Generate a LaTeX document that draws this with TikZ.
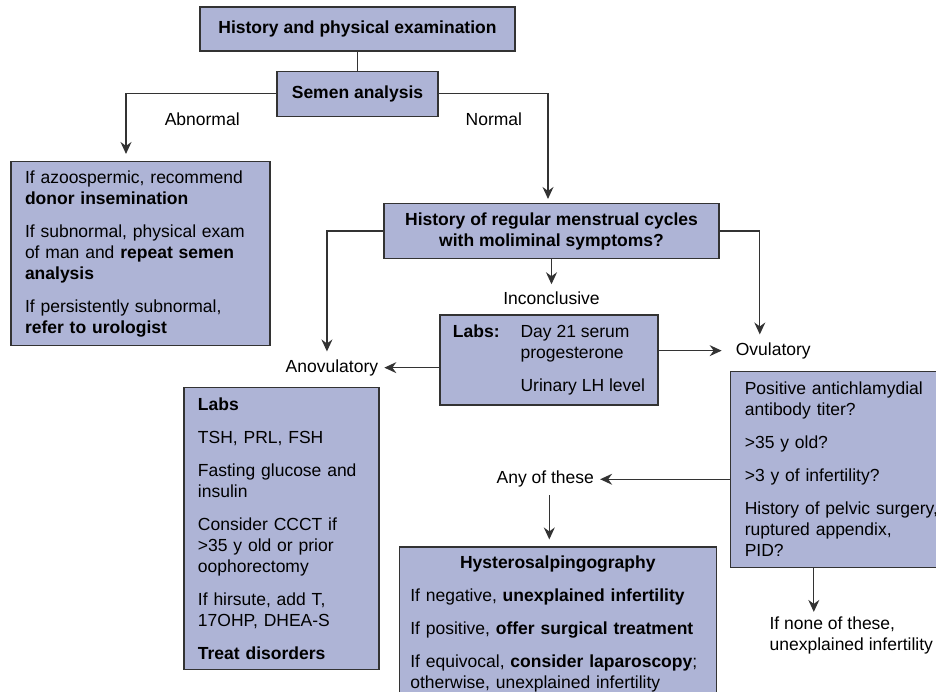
\documentclass[tikz,border=0pt]{standalone}
\usepackage{fontspec}
\setmainfont{Liberation Sans}
\usepackage{xcolor}
\usepackage{tikz}
\usetikzlibrary{positioning,arrows.meta}
\definecolor{accent}{HTML}{333333}
\definecolor{soft}{HTML}{AEB4D6}
\newcommand{\diagfont}{\fontsize{17.5pt}{21pt}\selectfont}
\newcommand{\gap}{\\[12pt]}
\tikzset{
  box/.style={rectangle,draw=accent,fill=soft,line width=1.3pt,
    align=center,inner sep=4pt,font=\diagfont\bfseries},
  panel/.style={rectangle,draw=accent,fill=soft,line width=1.3pt,
    align=left,inner xsep=14pt,inner ysep=4pt},
  lbl/.style={inner xsep=6pt,inner ysep=8pt,text height=12.5pt,text depth=3.5pt},
  note/.style={align=left,inner sep=5pt},
  ln/.style={draw=accent,line width=1.3pt},
  fl/.style={-{Stealth[length=12pt,width=11pt,inset=4pt]},draw=accent,line width=1.3pt},
}

\begin{document}
\begin{tikzpicture}[x=1pt,y=-1pt,font=\diagfont]
  \useasboundingbox (0,0) rectangle (936,692);
  \clip (0,0) rectangle (936,692);
  \node[box,minimum width=315pt,minimum height=44pt] (hpe) at (357.5,29) {History and physical examination};
  \node[box,minimum width=161pt,minimum height=45pt,below=19pt of hpe] (semen) {Semen analysis};
  \node[lbl,left=30.5pt of semen,yshift=-27.25pt] (abn) {Abnormal};
  \node[lbl,right=20.8pt of semen,yshift=-27.25pt] (norm) {Normal};
  \node[panel,text width=231pt,minimum height=184pt,below=44pt of semen,xshift=-217pt] (male) {If azoospermic, recommend\\
    \textbf{donor insemination}\gap
    If subnormal, physical exam\\
    of man and \textbf{repeat semen}\\
    \textbf{analysis}\gap
    If persistently subnormal,\\
    \textbf{refer to urologist}};
  \node[box,minimum width=335pt,minimum height=55pt,below=86pt of semen,xshift=194pt] (cycles) {History of regular menstrual cycles\\with moliminal symptoms?};
  \node[lbl,below=25pt of cycles] (inconc) {Inconclusive};
  \node[rectangle,draw=accent,fill=soft,line width=1.3pt,minimum width=218pt,minimum height=90pt,
    below=55pt of cycles,xshift=-2.5pt] (labsmid) {%
    \begin{tabular}{@{}l@{\hspace{21pt}}l@{}}
      \textbf{Labs:} & Day 21 serum\\
       & progesterone\\[12pt]
       & Urinary LH level
    \end{tabular}};
  \node[lbl,left=55pt of labsmid,yshift=-7.75pt] (anov) {Anovulatory};
  \node[lbl,right=71pt of labsmid,yshift=9.25pt] (ovul) {Ovulatory};
  \node[panel,text width=167pt,minimum height=282pt,below=3pt of anov,xshift=-50.5pt] (labsanov) {\textbf{Labs}\gap
    TSH, PRL, FSH\gap
    Fasting glucose and\\ insulin\gap
    Consider CCCT if\\ >35 y old or prior\\ oophorectomy\gap
    If hirsute, add T,\\ 17OHP, DHEA-S\gap
    \textbf{Treat disorders}};
  \node[panel,text width=195pt,minimum height=196pt,below=4pt of ovul,xshift=69pt] (risk) {Positive antichlamydial\\ antibody titer?\gap
    >35 y old?\gap
    >3 y of infertility?\gap
    History of pelvic surgery,\\ ruptured appendix,\\ PID?};
  \node[lbl,left=130pt of risk,yshift=-9.75pt] (any) {Any of these};
  \node[panel,inner xsep=11pt,text width=295pt,minimum height=154pt,below=51pt of any,xshift=12.5pt] (hsg) {%
    \makebox[\linewidth]{\textbf{Hysterosalpingography}}\gap
    If negative, \textbf{unexplained infertility}\gap
    If positive, \textbf{offer surgical treatment}\gap
    If equivocal, \textbf{consider laparoscopy};\\
    otherwise, unexplained infertility};
  \node[note,below=43.75pt of risk,xshift=9pt] (none) {If none of these,\\unexplained infertility};

  \draw[ln] (hpe) -- (semen);
  \draw[fl,shorten >=7pt] (semen.west) -| ([xshift=-14.5pt]male.north);
  \draw[fl,shorten >=4pt] (semen.east) -| ([xshift=-3.5pt]cycles.north);
  \draw[fl] (cycles.west) -| ([xshift=-5pt]anov.north);
  \draw[fl] (cycles.east) -| ([xshift=-13.5pt]ovul.north);
  \draw[fl] (cycles.south) -- (cycles.south |- inconc.north);
  \draw[fl,shorten >=8pt] (labsmid.east |- ovul.west) -- (ovul.west);
  \draw[fl] (labsmid.west |- anov.east) -- (anov.east);
  \draw[fl] (risk.west |- any.east) -- (any.east);
  \draw[fl,shorten >=7pt] ([xshift=4pt]any.south) -- ([xshift=4pt]any.south |- hsg.north);
  \draw[fl] ([xshift=-28.5pt]risk.south) -- ([xshift=-28.5pt]risk.south |- none.north);
\end{tikzpicture}
\end{document}
